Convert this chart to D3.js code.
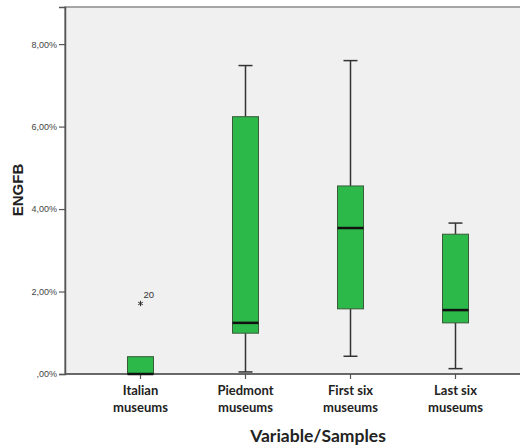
<!DOCTYPE html>
<html>
<head>
<meta charset="utf-8">
<script src="https://cdn.jsdelivr.net/npm/d3@7"></script>
<style>
  body { margin: 0; background: #fff; }
</style>
</head>
<body>
<div id="chart"></div>
<script>
// Data (percent values)
const categories = ["Italian museums", "Piedmont museums", "First six museums", "Last six museums"];
const whiskerLow  = [0.00, 0.05, 0.43, 0.13];
const q1          = [0.00, 0.99, 1.58, 1.24];
const median      = [0.00, 1.24, 3.54, 1.55];
const q3          = [0.42, 6.24, 4.56, 3.39];
const whiskerHigh = [0.42, 7.48, 7.60, 3.66];
const outliers = [{ cat: "Italian museums", value: 1.71, label: "20" }];
const yTicks = [0, 2, 4, 6, 8];

const W = 520, H = 445;
const plot = { left: 65, top: 7, right: 522, bottom: 374 };

const svg = d3.select("#chart")
    .append("svg")
    .attr("width", W)
    .attr("height", H);

const x = d3.scaleBand()
    .domain(categories)
    .range([88, 508]);

const y = d3.scaleLinear()
    .domain([0, 8.9])
    .range([plot.bottom, plot.top]);

// plot background
svg.append("rect")
    .attr("x", plot.left)
    .attr("y", plot.top)
    .attr("width", plot.right - plot.left)
    .attr("height", plot.bottom - plot.top)
    .attr("fill", "#f0f0f0")
    .attr("stroke", "#8a8a8a")
    .attr("stroke-width", 1.5);

// y axis
const fmt = d => (d === 0 ? ",00%" : d.toFixed(2).replace(".", ",") + "%");
const yAxis = svg.append("g")
    .attr("transform", `translate(${plot.left},0)`)
    .call(d3.axisLeft(y).tickValues(yTicks).tickFormat(fmt).tickSize(6).tickPadding(2));
yAxis.select(".domain").attr("stroke", "#555").attr("stroke-width", 1.5);
yAxis.selectAll(".tick line").attr("stroke", "#555").attr("stroke-width", 1.2);
yAxis.selectAll(".tick text")
    .attr("font-family", "Liberation Sans, Arial, sans-serif")
    .attr("font-size", 9)
    .attr("fill", "#444");

// x axis
const xAxis = svg.append("g")
    .attr("transform", `translate(0,${plot.bottom})`)
    .call(d3.axisBottom(x).tickSize(5).tickFormat(""));
xAxis.select(".domain").remove();
xAxis.selectAll(".tick line").attr("stroke", "#555").attr("stroke-width", 1.2);
svg.append("line")
    .attr("x1", plot.left).attr("x2", plot.right)
    .attr("y1", plot.bottom).attr("y2", plot.bottom)
    .attr("stroke", "#555").attr("stroke-width", 1.5);

// category labels (two lines)
categories.forEach(c => {
    const words = c.split(" ");
    const line1 = words.slice(0, -1).join(" ");
    const line2 = words[words.length - 1];
    const t = svg.append("text")
        .attr("x", x(c) + x.bandwidth() / 2)
        .attr("y", 395)
        .attr("text-anchor", "middle")
        .attr("font-family", "Lato, Open Sans, sans-serif")
        .attr("font-weight", "bold")
        .attr("font-size", 13)
        .attr("fill", "#222");
    t.append("tspan").attr("x", x(c) + x.bandwidth() / 2).text(line1);
    t.append("tspan").attr("x", x(c) + x.bandwidth() / 2).attr("dy", 17).text(line2);
});

// axis titles
svg.append("text")
    .attr("x", 318)
    .attr("y", 442)
    .attr("text-anchor", "middle")
    .attr("font-family", "Lato, Open Sans, sans-serif")
    .attr("font-weight", "bold")
    .attr("font-size", 17.5)
    .attr("fill", "#222")
    .text("Variable/Samples");

svg.append("text")
    .attr("transform", "translate(23,190) rotate(-90)")
    .attr("text-anchor", "middle")
    .attr("font-family", "Liberation Sans, Arial, sans-serif")
    .attr("font-weight", "bold")
    .attr("font-size", 15)
    .attr("fill", "#222")
    .text("ENGFB");

// boxes
const boxW = 26, capW = 14;
const boxes = categories.map((c, i) => ({
    cat: c, lo: whiskerLow[i], q1: q1[i], med: median[i], q3: q3[i], hi: whiskerHigh[i]
}));

const g = svg.append("g");
const cx = d => x(d.cat) + x.bandwidth() / 2;

boxes.forEach(d => {
    const c = cx(d);
    const stroke = "#333";
    // whiskers
    if (d.hi > d.q3) {
        g.append("line").attr("x1", c).attr("x2", c).attr("y1", y(d.q3)).attr("y2", y(d.hi))
            .attr("stroke", stroke).attr("stroke-width", 1.5);
        g.append("line").attr("x1", c - capW / 2).attr("x2", c + capW / 2).attr("y1", y(d.hi)).attr("y2", y(d.hi))
            .attr("stroke", stroke).attr("stroke-width", 1.5);
    }
    if (d.lo < d.q1) {
        g.append("line").attr("x1", c).attr("x2", c).attr("y1", y(d.q1)).attr("y2", y(d.lo))
            .attr("stroke", stroke).attr("stroke-width", 1.5);
        g.append("line").attr("x1", c - capW / 2).attr("x2", c + capW / 2).attr("y1", y(d.lo)).attr("y2", y(d.lo))
            .attr("stroke", stroke).attr("stroke-width", 1.5);
    }
    // box
    g.append("rect")
        .attr("x", c - boxW / 2)
        .attr("y", y(d.q3))
        .attr("width", boxW)
        .attr("height", y(d.q1) - y(d.q3))
        .attr("fill", "#2db84a")
        .attr("stroke", "#3a5a3a")
        .attr("stroke-width", 1);
    // median
    g.append("line")
        .attr("x1", c - boxW / 2).attr("x2", c + boxW / 2)
        .attr("y1", y(d.med)).attr("y2", y(d.med))
        .attr("stroke", "#111").attr("stroke-width", 2.5);
});

// outliers
outliers.forEach(o => {
    const c = x(o.cat) + x.bandwidth() / 2;
    g.append("path")
        .attr("d", d3.symbol(d3.symbolAsterisk, 20)())
        .attr("transform", `translate(${c},${y(o.value)})`)
        .attr("stroke", "#333")
        .attr("stroke-width", 1)
        .attr("fill", "none");
    g.append("text")
        .attr("x", c + 3)
        .attr("y", y(o.value) - 5)
        .attr("font-family", "Liberation Sans, Arial, sans-serif")
        .attr("font-size", 9.5)
        .attr("fill", "#333")
        .text(o.label);
});
</script>
</body>
</html>
